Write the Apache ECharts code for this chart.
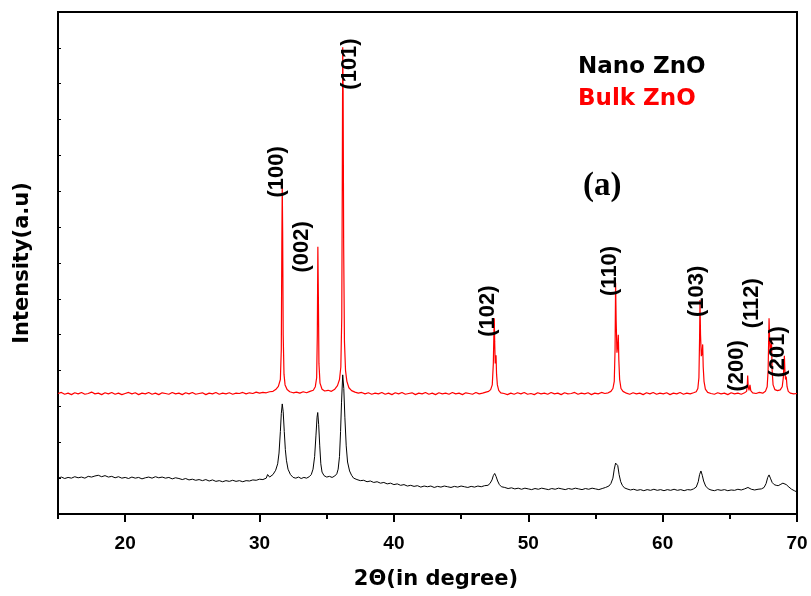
<!DOCTYPE html>
<html>
<head>
<meta charset="utf-8">
<script src="https://cdn.jsdelivr.net/npm/echarts@6/dist/echarts.min.js"></script>
<style>html,body{margin:0;padding:0;background:#fff}#c{width:811px;height:596px}</style>
</head>
<body>
<div id="c"></div>
<script>
// 2-theta (deg), intensity (a.u.)
const bulkZnO = [
[15.00,3.36],[15.25,3.39],[15.5,3.34],[15.75,3.37],[16.0,3.33],[16.25,3.38],[16.5,3.35],[16.75,3.39],[17.0,3.34],[17.25,3.36],
[17.5,3.40],[17.75,3.35],[18.0,3.37],[18.25,3.33],[18.5,3.38],[18.75,3.35],[19.0,3.39],[19.25,3.34],[19.5,3.37],[19.75,3.33],
[20.0,3.36],[20.25,3.39],[20.5,3.35],[20.75,3.38],[21.0,3.33],[21.25,3.37],[21.5,3.35],[21.75,3.39],[22.0,3.34],[22.25,3.37],
[22.5,3.33],[22.75,3.38],[23.0,3.36],[23.25,3.34],[23.5,3.39],[23.75,3.35],[24.0,3.37],[24.25,3.33],[24.5,3.38],[24.75,3.35],
[25.0,3.39],[25.25,3.34],[25.5,3.36],[25.75,3.38],[26.0,3.33],[26.25,3.37],[26.5,3.35],[26.75,3.39],[27.0,3.34],[27.25,3.37],
[27.5,3.35],[27.75,3.38],[28.0,3.34],[28.25,3.37],[28.5,3.36],[28.75,3.39],[29.0,3.35],[29.25,3.38],[29.5,3.36],[29.75,3.40],
[30.0,3.37],[30.25,3.39],[30.5,3.38],[30.75,3.41],[31.0,3.42],[31.2,3.47],[31.4,3.56],[31.55,3.75],[31.62,4.6],[31.66,7.6],
[31.69,9.18],[31.72,7.9],[31.76,5.0],[31.82,3.9],[31.9,3.6],[32.05,3.47],[32.25,3.41],[32.5,3.38],[32.75,3.40],[33.0,3.37],
[33.25,3.41],[33.5,3.38],[33.75,3.42],[34.0,3.45],[34.15,3.55],[34.25,3.8],[34.3,5.0],[34.34,7.45],[34.38,6.0],[34.42,4.2],
[34.5,3.65],[34.65,3.48],[34.85,3.43],[35.1,3.45],[35.35,3.42],[35.6,3.48],[35.8,3.58],[35.95,3.75],[36.05,4.1],[36.12,5.5],
[36.16,9.5],[36.19,13.02],[36.22,11.8],[36.26,7.5],[36.32,4.8],[36.4,4.0],[36.5,3.7],[36.65,3.52],[36.85,3.44],[37.1,3.40],
[37.35,3.37],[37.6,3.39],[37.85,3.35],[38.1,3.38],[38.35,3.34],[38.6,3.37],[38.85,3.35],[39.1,3.39],[39.35,3.34],[39.6,3.37],
[39.85,3.33],[40.1,3.38],[40.35,3.35],[40.6,3.39],[40.85,3.34],[41.1,3.36],[41.35,3.38],[41.6,3.33],[41.85,3.37],[42.1,3.35],
[42.35,3.39],[42.6,3.34],[42.85,3.37],[43.1,3.33],[43.35,3.38],[43.6,3.35],[43.85,3.37],[44.1,3.34],[44.35,3.39],[44.6,3.35],
[44.85,3.37],[45.1,3.33],[45.35,3.38],[45.6,3.36],[45.85,3.34],[46.1,3.39],[46.35,3.35],[46.6,3.37],[46.85,3.40],[47.05,3.42],
[47.2,3.47],[47.32,3.6],[47.4,4.2],[47.44,5.0],[47.47,5.46],[47.5,4.8],[47.54,4.2],[47.58,4.35],[47.6,4.43],[47.64,3.9],
[47.7,3.6],[47.8,3.45],[47.95,3.38],[48.2,3.36],[48.45,3.33],[48.7,3.37],[48.95,3.34],[49.2,3.38],[49.45,3.35],[49.7,3.39],
[49.95,3.34],[50.2,3.36],[50.45,3.33],[50.7,3.38],[50.95,3.35],[51.2,3.37],[51.45,3.34],[51.7,3.39],[51.95,3.35],[52.2,3.37],
[52.45,3.33],[52.7,3.38],[52.95,3.35],[53.2,3.36],[53.45,3.39],[53.7,3.34],[53.95,3.37],[54.2,3.35],[54.45,3.38],[54.7,3.33],
[54.95,3.37],[55.2,3.35],[55.45,3.39],[55.7,3.36],[55.95,3.38],[56.15,3.42],[56.3,3.5],[56.4,3.7],[56.46,4.6],[56.5,6.45],
[56.54,5.4],[56.6,4.5],[56.66,4.7],[56.7,5.0],[56.74,4.3],[56.8,3.75],[56.9,3.5],[57.05,3.42],[57.3,3.37],[57.55,3.34],
[57.8,3.38],[58.05,3.35],[58.3,3.37],[58.55,3.33],[58.8,3.38],[59.05,3.35],[59.3,3.39],[59.55,3.34],[59.8,3.37],[60.05,3.35],
[60.3,3.38],[60.55,3.33],[60.8,3.37],[61.05,3.35],[61.3,3.39],[61.55,3.34],[61.8,3.37],[62.05,3.35],[62.3,3.38],[62.5,3.41],
[62.62,3.5],[62.7,3.8],[62.75,4.9],[62.78,5.97],[62.82,5.0],[62.88,4.4],[62.94,4.5],[62.98,4.73],[63.02,4.1],[63.08,3.7],
[63.18,3.48],[63.35,3.39],[63.6,3.36],[63.85,3.34],[64.1,3.38],[64.35,3.35],[64.6,3.37],[64.85,3.33],[65.1,3.38],[65.35,3.35],
[65.6,3.37],[65.85,3.34],[66.1,3.38],[66.25,3.42],[66.3,3.6],[66.33,3.86],[66.37,3.55],[66.43,3.45],[66.5,3.6],[66.56,3.44],
[66.7,3.38],[66.95,3.36],[67.2,3.39],[67.45,3.37],[67.65,3.42],[67.78,3.55],[67.85,4.0],[67.89,4.8],[67.92,5.46],[67.96,4.9],
[68.01,4.5],[68.06,4.6],[68.1,4.85],[68.15,4.0],[68.22,3.6],[68.35,3.47],[68.55,3.44],[68.75,3.46],[68.9,3.55],[68.98,3.8],
[69.03,4.2],[69.06,4.41],[69.1,4.0],[69.15,3.75],[69.2,3.83],[69.26,3.55],[69.35,3.42],[69.5,3.37],[69.75,3.35],[70.0,3.36]
];
const nanoZnO = [
[15.0,1.0],[15.25,1.03],[15.5,0.99],[15.75,1.02],[16.0,1.0],[16.25,1.04],[16.5,1.01],[16.75,1.03],[17.0,1.0],[17.25,1.05],
[17.5,1.03],[17.75,1.06],[18.0,1.08],[18.25,1.04],[18.5,1.07],[18.75,1.03],[19.0,1.05],[19.25,1.01],[19.5,1.04],[19.75,1.0],
[20.0,1.02],[20.25,0.99],[20.5,1.03],[20.75,1.0],[21.0,1.02],[21.25,0.98],[21.5,1.01],[21.75,1.03],[22.0,1.0],[22.25,1.04],
[22.5,1.01],[22.75,1.03],[23.0,1.0],[23.25,1.02],[23.5,0.98],[23.75,1.01],[24.0,0.99],[24.25,0.96],[24.5,0.99],[24.75,0.95],
[25.0,0.97],[25.25,0.94],[25.5,0.96],[25.75,0.93],[26.0,0.96],[26.25,0.92],[26.5,0.95],[26.75,0.91],[27.0,0.93],[27.25,0.9],
[27.5,0.93],[27.75,0.91],[28.0,0.94],[28.25,0.91],[28.5,0.93],[28.75,0.9],[29.0,0.93],[29.25,0.92],[29.5,0.95],[29.75,0.94],
[30.0,0.97],[30.25,0.96],[30.5,1.0],[30.6,1.1],[30.75,1.03],[31.0,1.1],[31.2,1.22],[31.35,1.4],[31.45,1.7],[31.55,2.3],
[31.62,2.8],[31.69,3.07],[31.76,2.85],[31.84,2.3],[31.92,1.8],[32.0,1.5],[32.12,1.25],[32.3,1.1],[32.5,1.02],[32.7,1.0],
[32.9,1.03],[33.1,0.99],[33.3,1.02],[33.5,1.0],[33.7,1.04],[33.85,1.1],[33.98,1.25],[34.1,1.6],[34.2,2.2],[34.28,2.7],
[34.33,2.83],[34.4,2.5],[34.48,1.9],[34.56,1.4],[34.65,1.17],[34.8,1.07],[35.0,1.03],[35.2,1.05],[35.4,1.02],[35.6,1.06],
[35.75,1.12],[35.85,1.25],[35.95,1.6],[36.03,2.3],[36.1,3.1],[36.19,3.88],[36.27,3.5],[36.35,2.7],[36.45,1.9],[36.55,1.45],
[36.7,1.2],[36.85,1.08],[37.0,1.0],[37.25,0.96],[37.5,0.93],[37.75,0.94],[38.0,0.9],[38.25,0.92],[38.5,0.88],[38.75,0.9],
[39.0,0.86],[39.25,0.88],[39.5,0.84],[39.75,0.86],[40.0,0.82],[40.25,0.84],[40.5,0.8],[40.75,0.82],[41.0,0.78],[41.25,0.8],
[41.5,0.77],[41.75,0.79],[42.0,0.75],[42.25,0.78],[42.5,0.76],[42.75,0.78],[43.0,0.74],[43.25,0.77],[43.5,0.75],[43.75,0.78],
[44.0,0.76],[44.25,0.74],[44.5,0.77],[44.75,0.75],[45.0,0.78],[45.25,0.76],[45.5,0.74],[45.75,0.77],[46.0,0.75],[46.25,0.78],
[46.5,0.76],[46.75,0.79],[47.0,0.8],[47.15,0.85],[47.3,0.95],[47.4,1.07],[47.5,1.13],[47.6,1.05],[47.72,0.92],[47.85,0.82],
[48.0,0.76],[48.25,0.74],[48.5,0.71],[48.75,0.73],[49.0,0.7],[49.25,0.72],[49.5,0.69],[49.75,0.72],[50.0,0.7],[50.25,0.68],
[50.5,0.71],[50.75,0.69],[51.0,0.72],[51.25,0.7],[51.5,0.68],[51.75,0.71],[52.0,0.69],[52.25,0.72],[52.5,0.7],[52.75,0.68],
[53.0,0.71],[53.25,0.69],[53.5,0.72],[53.75,0.7],[54.0,0.68],[54.25,0.71],[54.5,0.69],[54.75,0.72],[55.0,0.7],[55.25,0.68],
[55.5,0.71],[55.75,0.74],[56.0,0.78],[56.15,0.85],[56.3,1.0],[56.4,1.25],[56.5,1.42],[56.58,1.46],[56.66,1.35],[56.76,1.1],
[56.88,0.9],[57.0,0.8],[57.15,0.73],[57.35,0.7],[57.6,0.67],[57.85,0.69],[58.1,0.66],[58.35,0.68],[58.6,0.65],[58.85,0.68],
[59.1,0.66],[59.35,0.69],[59.6,0.66],[59.85,0.68],[60.1,0.65],[60.35,0.68],[60.6,0.66],[60.85,0.69],[61.1,0.66],[61.35,0.68],
[61.6,0.65],[61.85,0.68],[62.1,0.67],[62.3,0.7],[62.5,0.75],[62.65,0.9],[62.75,1.1],[62.85,1.2],[62.95,1.08],[63.05,0.92],
[63.2,0.78],[63.4,0.7],[63.6,0.67],[63.85,0.65],[64.1,0.68],[64.35,0.66],[64.6,0.68],[64.85,0.65],[65.1,0.67],[65.35,0.66],
[65.6,0.69],[65.85,0.67],[66.1,0.7],[66.35,0.74],[66.6,0.69],[66.85,0.67],[67.1,0.69],[67.35,0.7],[67.55,0.74],[67.7,0.85],
[67.82,1.02],[67.92,1.09],[68.02,1.0],[68.15,0.88],[68.3,0.82],[68.45,0.8],[68.6,0.79],[68.8,0.83],[68.95,0.86],[69.06,0.87],
[69.2,0.82],[69.4,0.75],[69.6,0.69],[69.8,0.65],[69.97,0.62]
];
// Miller-index annotations: text, anchor (2-theta, intensity)
const peakNames = ['(100)','(002)','(101)','(102)','(110)','(103)','(200)','(112)','(201)'];
const peakLabelAngle = [31.30,33.14,36.73,47.03,56.08,62.54,65.51,66.63,68.61];
const peakLabelLevel = [9.54,7.45,12.55,5.66,6.78,6.21,4.13,5.88,4.52];
const xMajorTicks = [20,30,40,50,60,70];
const xMinorTicks = [15,25,35,45,55,65];
const seriesNames = ['Nano ZnO','Bulk ZnO'];

const chart = echarts.init(document.getElementById('c'), null, {renderer:'canvas'});
const bold = 'bold';
const sans = "'Liberation Sans', Arial, sans-serif";
const option = {
  animation: false,
  backgroundColor: '#fff',
  title: {
    text: '(a)', left: 583, top: 170, padding: 0,
    textStyle: {fontFamily: "'Liberation Serif','Times New Roman',serif", fontWeight: bold, fontSize: 33, color: '#000'}
  },
  legend: {
    orient: 'vertical', left: 568, top: 51, itemGap: 9,
    icon: 'none', itemWidth: 0, itemHeight: 0, selectedMode: false,
    textStyle: {fontFamily: "'DejaVu Sans', sans-serif", fontWeight: bold, fontSize: 23},
    data: [
      {name: seriesNames[0], textStyle: {color: '#000'}},
      {name: seriesNames[1], textStyle: {color: '#ff0000'}}
    ]
  },
  grid: {left: 58, right: 14, top: 12, bottom: 82, show: true, borderColor: '#000', borderWidth: 2, backgroundColor: 'transparent'},
  xAxis: [{
    type: 'value', min: 15, max: 70, interval: 5,
    name: '2\u0398(in degree)', nameLocation: 'middle', nameGap: 55,
    nameTextStyle: {fontFamily: "'DejaVu Sans', sans-serif", fontWeight: bold, fontSize: 21, color: '#000', padding: [0,0,0,17]},
    axisLine: {show: true, lineStyle: {color: '#000', width: 2}},
    axisTick: {show: true, inside: false, length: 8, customValues: xMajorTicks, lineStyle: {color: '#000', width: 2}},
    axisLabel: {show: true, customValues: xMajorTicks, margin: 20, fontFamily: sans, fontWeight: bold, fontSize: 19, color: '#000'},
    splitLine: {show: false}
  }, {
    type: 'value', min: 15, max: 70, interval: 5, position: 'bottom', gridIndex: 0,
    axisLine: {show: false},
    axisTick: {show: true, inside: false, length: 5, customValues: xMinorTicks, lineStyle: {color: '#000', width: 2}},
    axisLabel: {show: false},
    splitLine: {show: false}
  }],
  yAxis: {
    type: 'value', min: 0, max: 14, interval: 1,
    name: 'Intensity(a.u)', nameLocation: 'middle', nameGap: 25,
    nameTextStyle: {fontFamily: "'DejaVu Sans', sans-serif", fontWeight: bold, fontSize: 21, color: '#000'},
    axisLine: {show: true, lineStyle: {color: '#000', width: 2}},
    axisTick: {show: true, inside: true, length: 3, lineStyle: {color: '#000', width: 1}},
    axisLabel: {show: false},
    splitLine: {show: false}
  },
  series: [
    {name: seriesNames[1], type: 'line', data: bulkZnO, showSymbol: false, symbol: 'none',
     lineStyle: {color: '#ff0000', width: 1.2}, itemStyle: {color: '#ff0000'}},
    {name: seriesNames[0], type: 'line', data: nanoZnO, showSymbol: false, symbol: 'none',
     lineStyle: {color: '#000', width: 1}, itemStyle: {color: '#000'}},
    {name: 'labels', type: 'scatter', symbolSize: 1, itemStyle: {color: 'rgba(0,0,0,0)', opacity: 1}, silent: true, z: 10,
     data: peakNames.map((n, i) => ({name: n, value: [peakLabelAngle[i], peakLabelLevel[i]]})),
     label: {show: true, position: 'inside', rotate: 90, formatter: p => p.name,
       fontFamily: sans, fontWeight: bold, fontSize: 22, color: '#000'}}
  ]
};
chart.setOption(option);
</script>
</body>
</html>
